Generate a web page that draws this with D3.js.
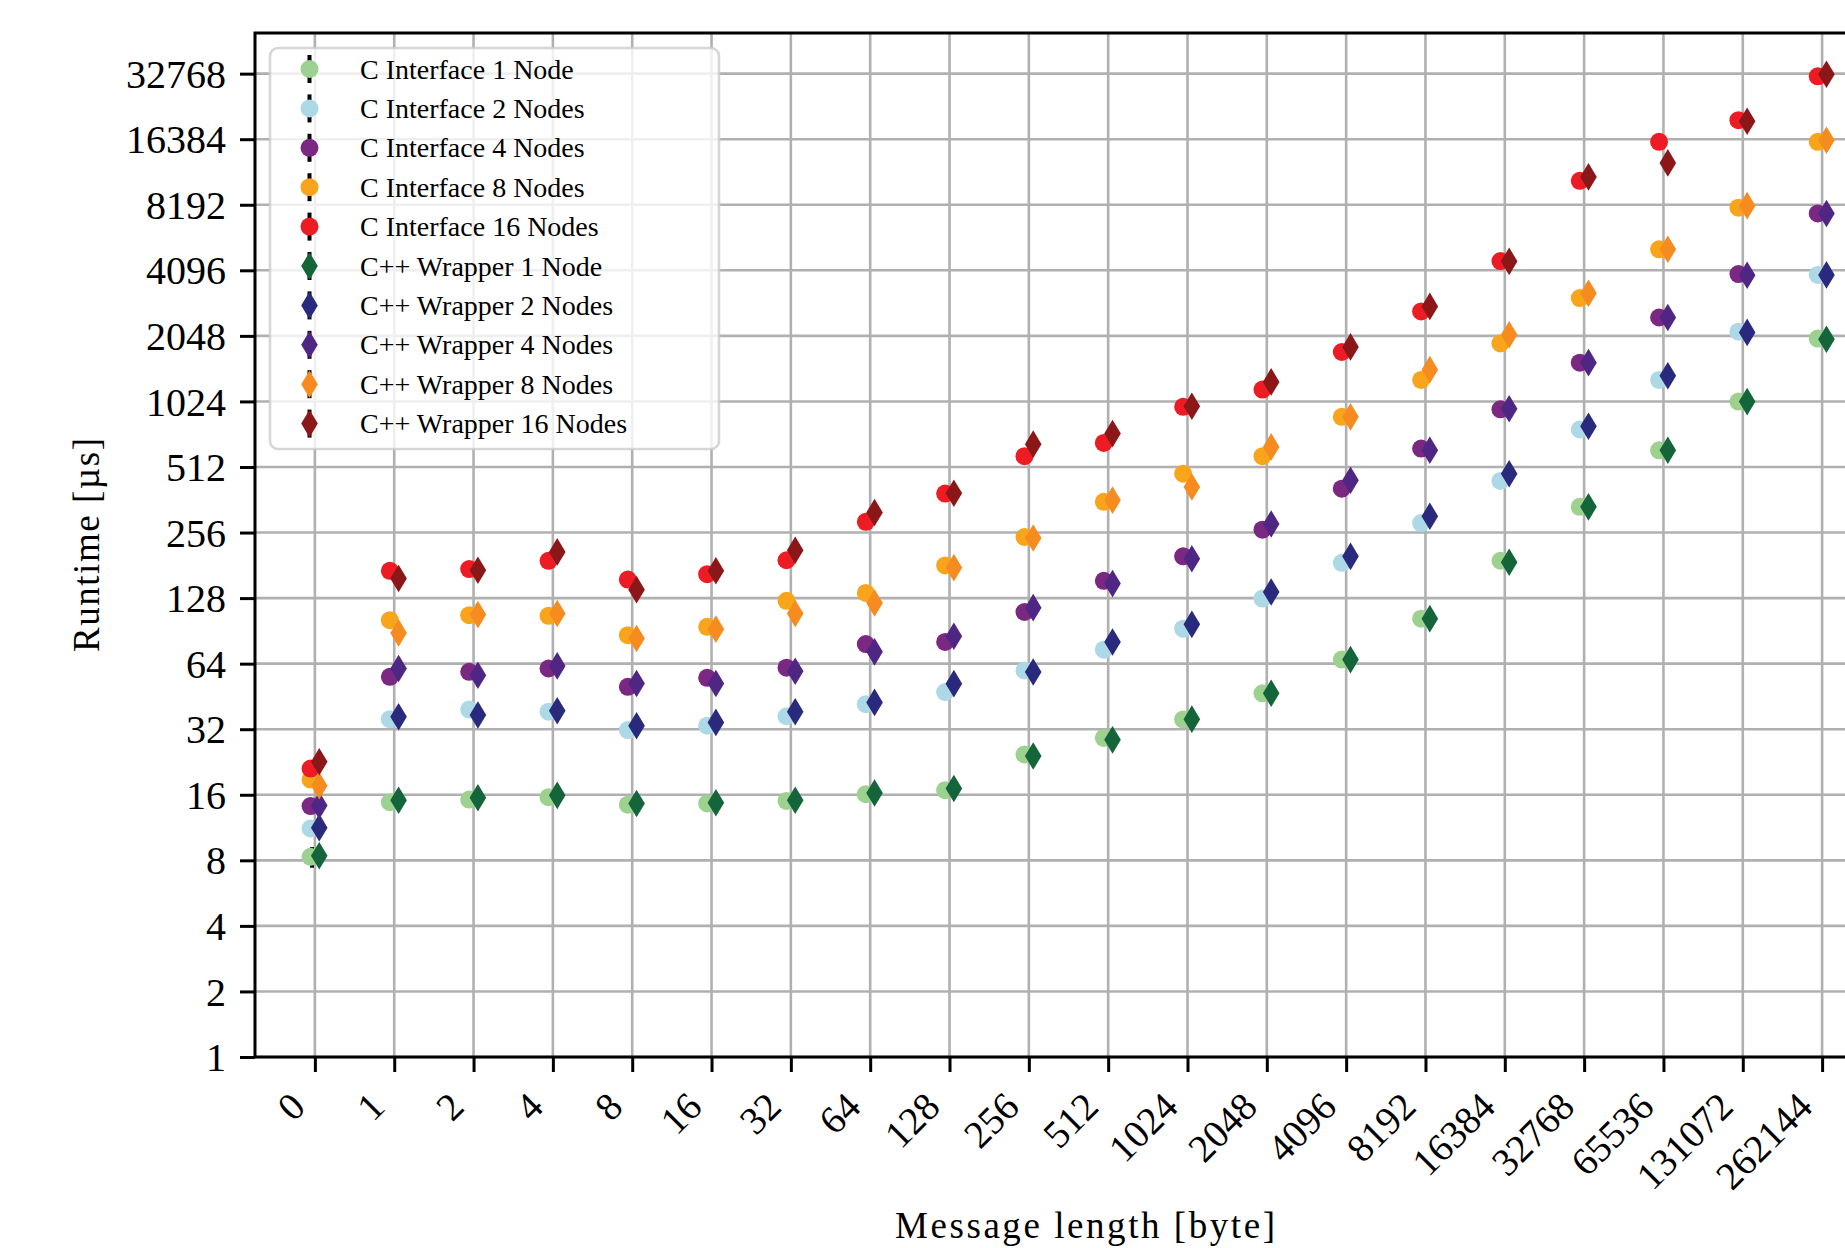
<!DOCTYPE html>
<html>
<head>
<meta charset="utf-8">
<script src="https://cdn.jsdelivr.net/npm/d3@7"></script>
<style>
    body { margin: 0; background: #ffffff; }
    svg { display: block; }
</style>
</head>
<body>
<div class="js-chart"></div>
<script>
'use strict';

// message lengths in bytes (x categories)
const messageLengths = ["0", "1", "2", "4", "8", "16", "32", "64", "128", "256", "512",
    "1024", "2048", "4096", "8192", "16384", "32768", "65536", "131072", "262144"];

// y tick labels (log2 axis)
const runtimeTicks = [1, 2, 4, 8, 16, 32, 64, 128, 256, 512, 1024, 2048, 4096, 8192, 16384, 32768];

// runtimes in microseconds
const cInterface1 = [8.3, 14.8, 15.2, 15.6, 14.4, 14.6, 15.0, 16.1, 16.8, 24.5, 29.2, 35.5, 46.8, 66.8, 103, 190, 336, 611, 1022, 1990];
const cInterface2 = [11.2, 35.6, 39.4, 38.5, 31.7, 33.2, 36.7, 41.7, 47.4, 59.6, 74.2, 92.6, 127.3, 185.8, 283, 442, 761, 1285, 2140, 3903];
const cInterface4 = [14.2, 55.7, 58.7, 60.8, 50.1, 55.1, 61.3, 78.7, 80.5, 110.5, 153.6, 199.2, 264, 407, 622, 942, 1543, 2487, 3939, 7474];
const cInterface8 = [18.8, 101.3, 106.9, 106.1, 86.5, 94.5, 124.4, 135.2, 180.9, 244.2, 354.4, 477.2, 574, 870, 1285, 1891, 3054, 5115, 7944, 15935];
const cInterface16 = [21.1, 170.8, 173.9, 189.8, 155.8, 164.9, 191, 286.6, 386.7, 573.7, 660.6, 967.4, 1160.6, 1727, 2652, 4518, 10549, 15935, 20033, 31860];

const cppWrapper1 = [8.4, 15.1, 15.5, 15.9, 14.6, 14.7, 15.1, 16.3, 17.1, 24.1, 28.6, 35.6, 46.8, 66.8, 103, 187, 336, 611, 1022, 1975];
const cppWrapper2 = [11.3, 36.5, 37.2, 38.9, 33.2, 34.4, 38.5, 42.5, 51.8, 58.6, 80.5, 97.0, 136.6, 199, 304, 477, 788, 1343, 2125, 3903];
const cppWrapper4 = [14.3, 60.8, 56.6, 62.5, 51.9, 51.9, 59.1, 72.5, 85.5, 115.7, 149.2, 194.2, 280, 445, 611, 948, 1543, 2487, 3886, 7474];
const cppWrapper8 = [17.6, 88.6, 107.5, 108.8, 83.5, 92.2, 108.8, 121.6, 176.6, 241.8, 360.5, 414.5, 633, 870, 1433, 2074, 3215, 5115, 8114, 16213];
const cppWrapper16 = [22.7, 157.5, 171.9, 208.6, 140.0, 170.8, 212.4, 316.3, 388, 651.7, 728.7, 973, 1259, 1823, 2797, 4504, 11000, 12750, 19800, 32540];

// error (+/-) of the C interface 1 node run, only the first one is visible
const cInterface1Err = [0.9, 0, 0, 0, 0, 0, 0, 0, 0, 0, 0, 0, 0, 0, 0, 0, 0, 0, 0, 0];

const seriesNames = ["C Interface 1 Node", "C Interface 2 Nodes", "C Interface 4 Nodes", "C Interface 8 Nodes", "C Interface 16 Nodes",
    "C++ Wrapper 1 Node", "C++ Wrapper 2 Nodes", "C++ Wrapper 4 Nodes", "C++ Wrapper 8 Nodes", "C++ Wrapper 16 Nodes"];
const seriesColors = ["#9dd18f", "#add8e6", "#7a2882", "#f9a51b", "#ed1c24",
    "#14653a", "#29297d", "#4f2683", "#f68c20", "#8b1719"];
const seriesValues = [cInterface1, cInterface2, cInterface4, cInterface8, cInterface16,
    cppWrapper1, cppWrapper2, cppWrapper4, cppWrapper8, cppWrapper16];

const FONT = '"Liberation Serif", "Times New Roman", "DejaVu Serif", serif';

function drawChart() {

    //Width and height
    const svgWidth = 1845;
    const svgHeight = 1248;
    const plotLeft = 255;
    const plotRight = 1882; // the right spine sits outside the picture
    const plotTop = 33;
    const plotBottom = 1057;
    const gridColor = "#b0b0b0";

    const series = seriesNames.map(function(name, i) {
        return {
            name: name,
            color: seriesColors[i],
            values: seriesValues[i],
            shape: i < 5 ? "circle" : "diamond",
            err: i === 0 ? cInterface1Err : null
        };
    });

    //Create scale functions
    const xScale = d3.scalePoint()
        .domain(messageLengths)
        .range([plotLeft, plotRight])
        .padding(0.755);

    const yScale = d3.scaleLog()
        .base(2)
        .domain([1, Math.pow(2, 15.62)])
        .range([plotBottom, plotTop]);

    const shift = xScale.step() * 0.055; // circles a bit left, diamonds a bit right

    const diamondPath = function(h, w) {
        return "M0," + (-h) + "L" + w + ",0L0," + h + "L" + (-w) + ",0Z";
    };

    //Create SVG element
    const svg = d3.select(".js-chart")
        .append("svg")
        .attr("width", svgWidth)
        .attr("height", svgHeight)
        .style("background", "#ffffff");

    // grid lines
    const grid = svg.append("g");
    grid.selectAll("line.vgrid")
        .data(messageLengths)
        .enter()
        .append("line")
        .attr("class", "vgrid")
        .attr("x1", d => xScale(d))
        .attr("x2", d => xScale(d))
        .attr("y1", plotTop)
        .attr("y2", plotBottom)
        .attr("stroke", gridColor)
        .attr("stroke-width", 2.6);

    grid.selectAll("line.hgrid")
        .data(runtimeTicks)
        .enter()
        .append("line")
        .attr("class", "hgrid")
        .attr("x1", plotLeft)
        .attr("x2", plotRight)
        .attr("y1", d => yScale(d))
        .attr("y2", d => yScale(d))
        .attr("stroke", gridColor)
        .attr("stroke-width", 2.6);

    // markers: all C interface series first, then the C++ wrapper series
    series.forEach(function(s) {
        const g = svg.append("g");
        const points = s.values.map((v, i) => ({ cat: messageLengths[i], v: v, e: s.err ? s.err[i] : 0 }));
        const dx = s.shape === "circle" ? -shift : shift;

        if (s.err) {
            g.selectAll("line")
                .data(points.filter(p => p.e > 0))
                .enter()
                .append("line")
                .attr("x1", p => xScale(p.cat) + dx + 1.5)
                .attr("x2", p => xScale(p.cat) + dx + 1.5)
                .attr("y1", p => yScale(p.v + p.e))
                .attr("y2", p => yScale(p.v - p.e))
                .attr("stroke", "#000000")
                .attr("stroke-width", 4);
        }

        if (s.shape === "circle") {
            g.selectAll("circle")
                .data(points)
                .enter()
                .append("circle")
                .attr("cx", p => xScale(p.cat) + dx)
                .attr("cy", p => yScale(p.v))
                .attr("r", 9)
                .attr("fill", s.color);
        } else {
            g.selectAll("path")
                .data(points)
                .enter()
                .append("path")
                .attr("d", diamondPath(13.8, 8.3))
                .attr("transform", p => "translate(" + (xScale(p.cat) + dx) + "," + yScale(p.v) + ")")
                .attr("fill", s.color);
        }
    });

    // axes
    const yAxis = d3.axisLeft(yScale)
        .tickValues(runtimeTicks)
        .tickFormat(d3.format("d"))
        .tickSize(15)
        .tickSizeOuter(0)
        .tickPadding(14);

    const yAxisG = svg.append("g")
        .attr("transform", "translate(" + plotLeft + ",0)")
        .call(yAxis);
    yAxisG.select(".domain").remove();
    yAxisG.selectAll("line").attr("stroke", "#000000").attr("stroke-width", 3);
    yAxisG.selectAll("text")
        .attr("font-family", FONT)
        .attr("font-size", "40px")
        .attr("fill", "#000000")
        .attr("dy", "0.34em");

    const xAxis = d3.axisBottom(xScale)
        .tickSize(15)
        .tickSizeOuter(0);

    const xAxisG = svg.append("g")
        .attr("transform", "translate(0," + plotBottom + ")")
        .call(xAxis);
    xAxisG.select(".domain").remove();
    xAxisG.selectAll("line").attr("stroke", "#000000").attr("stroke-width", 3);
    xAxisG.selectAll("text")
        .attr("font-family", FONT)
        .attr("font-size", "39px")
        .attr("fill", "#000000")
        .attr("text-anchor", "end")
        .attr("y", null)
        .attr("dy", null)
        .attr("transform", "translate(-8,52) rotate(-45)");

    // spines
    svg.append("rect")
        .attr("x", plotLeft)
        .attr("y", plotTop)
        .attr("width", plotRight - plotLeft)
        .attr("height", plotBottom - plotTop)
        .attr("fill", "none")
        .attr("stroke", "#000000")
        .attr("stroke-width", 3);

    // axis labels
    svg.append("text")
        .text("Message length [byte]")
        .attr("font-family", FONT)
        .attr("font-size", "37px")
        .attr("fill", "#000000")
        .attr("text-anchor", "middle")
        .attr("x", 1085)
        .attr("y", 1238)
        .attr("textLength", 380)
        .attr("lengthAdjust", "spacing");

    svg.append("text")
        .text("Runtime [µs]")
        .attr("font-family", FONT)
        .attr("font-size", "37px")
        .attr("fill", "#000000")
        .attr("text-anchor", "middle")
        .attr("transform", "translate(99," + ((plotTop + plotBottom) / 2) + ") rotate(-90)")
        .attr("textLength", 214)
        .attr("lengthAdjust", "spacing");

    // legend
    const legend = svg.append("g");
    legend.append("rect")
        .attr("x", 270)
        .attr("y", 48)
        .attr("width", 449)
        .attr("height", 401)
        .attr("rx", 8)
        .attr("fill", "#ffffff")
        .attr("fill-opacity", 0.8)
        .attr("stroke", "#cccccc")
        .attr("stroke-opacity", 0.8)
        .attr("stroke-width", 2.6);

    const rowY = i => 69 + i * 39.4;
    const markerX = 309.5;

    const rows = legend.selectAll("g.row")
        .data(series)
        .enter()
        .append("g")
        .attr("class", "row")
        .attr("transform", (d, i) => "translate(0," + rowY(i) + ")");

    rows.append("line")
        .attr("x1", markerX)
        .attr("x2", markerX)
        .attr("y1", -14)
        .attr("y2", 14)
        .attr("stroke", "#000000")
        .attr("stroke-width", 4);

    rows.filter(d => d.shape === "circle")
        .append("circle")
        .attr("cx", markerX)
        .attr("cy", 0)
        .attr("r", 9)
        .attr("fill", d => d.color);

    rows.filter(d => d.shape === "diamond")
        .append("path")
        .attr("d", diamondPath(13.8, 8.3))
        .attr("transform", "translate(" + markerX + ",0)")
        .attr("fill", d => d.color);

    rows.append("text")
        .text(d => d.name)
        .attr("font-family", FONT)
        .attr("font-size", "28px")
        .attr("fill", "#000000")
        .attr("x", 360)
        .attr("y", 0)
        .attr("dy", "0.34em");
}

drawChart();
</script>
</body>
</html>
